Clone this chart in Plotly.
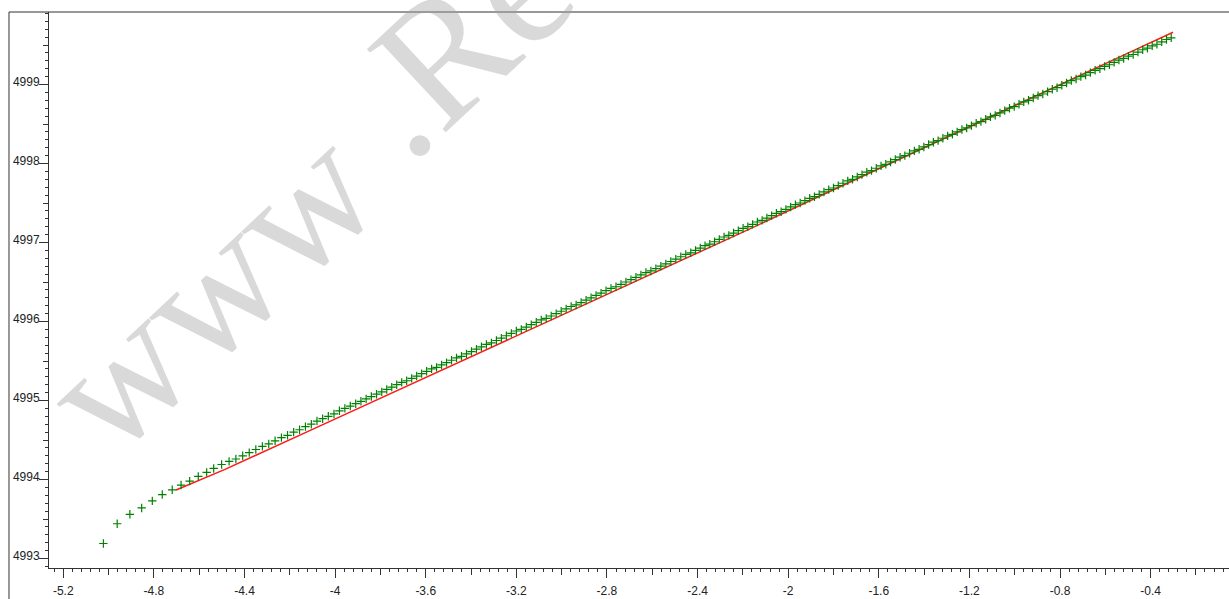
import plotly.graph_objects as go

# ---- data ----
x_green = [-5.023, -4.962, -4.906, -4.854, -4.807, -4.763, -4.719, -4.680, -4.642, -4.604,
           -4.567, -4.536, -4.501, -4.468,
           -4.438, -4.408, -4.379, -4.350, -4.321, -4.293, -4.265, -4.237, -4.210, -4.183,
           -4.157, -4.131, -4.105, -4.080, -4.055, -4.030, -4.005, -3.981, -3.957, -3.933,
           -3.909, -3.886, -3.863, -3.840, -3.817, -3.794, -3.772, -3.750, -3.728,
           -3.706, -3.684, -3.662, -3.640, -3.618, -3.596, -3.574, -3.552, -3.530, -3.508,
           -3.486, -3.464, -3.442, -3.420, -3.398, -3.376, -3.354, -3.332, -3.310, -3.288,
           -3.266, -3.244, -3.222, -3.200, -3.178, -3.156, -3.134, -3.112, -3.090, -3.068,
           -3.046, -3.024, -3.002, -2.980,
           -2.958, -2.936, -2.914, -2.892, -2.870, -2.848, -2.826, -2.804, -2.782, -2.760,
           -2.738, -2.716, -2.694, -2.672, -2.650, -2.628, -2.606, -2.584, -2.562, -2.540,
           -2.518, -2.496, -2.474, -2.452, -2.430, -2.409, -2.388, -2.367, -2.346, -2.325,
           -2.304, -2.283, -2.262, -2.241, -2.220,
           -2.199, -2.178, -2.157, -2.136, -2.115, -2.094, -2.073, -2.052, -2.031, -2.010,
           -1.989, -1.968, -1.947, -1.926, -1.905, -1.884, -1.863, -1.842, -1.821, -1.800,
           -1.779, -1.758, -1.737, -1.716, -1.695, -1.674, -1.653, -1.632, -1.611, -1.590,
           -1.569, -1.548, -1.527, -1.506, -1.485,
           -1.464, -1.443, -1.422, -1.401, -1.380, -1.359, -1.338, -1.317, -1.296, -1.275,
           -1.254, -1.233, -1.212, -1.191, -1.170, -1.149, -1.128, -1.107, -1.086, -1.065,
           -1.044, -1.023, -1.002, -0.981, -0.960, -0.939, -0.918, -0.897, -0.876, -0.855,
           -0.834, -0.813, -0.792, -0.771, -0.750, -0.729,
           -0.708, -0.687, -0.666, -0.645, -0.624, -0.603, -0.582, -0.561, -0.540, -0.519,
           -0.498, -0.477, -0.456, -0.435, -0.414, -0.393, -0.372, -0.351, -0.330, -0.309]

y_green = [4993.19, 4993.44, 4993.56, 4993.64, 4993.73, 4993.81, 4993.87, 4993.93, 4993.98, 4994.04,
           4994.09, 4994.14, 4994.19, 4994.23,
           4994.26, 4994.30, 4994.34, 4994.38, 4994.42, 4994.45, 4994.49, 4994.53, 4994.56, 4994.60,
           4994.63, 4994.67, 4994.70, 4994.74, 4994.77, 4994.80, 4994.83, 4994.87, 4994.90, 4994.93,
           4994.96, 4994.99, 4995.02, 4995.05, 4995.08, 4995.11, 4995.14, 4995.17, 4995.20,
           4995.23, 4995.25, 4995.28, 4995.31, 4995.34, 4995.37, 4995.40, 4995.42, 4995.45, 4995.48,
           4995.51, 4995.54, 4995.56, 4995.59, 4995.62, 4995.65, 4995.68, 4995.71, 4995.73, 4995.76,
           4995.79, 4995.82, 4995.85, 4995.88, 4995.90, 4995.93, 4995.96, 4995.99, 4996.02, 4996.04,
           4996.07, 4996.10, 4996.13, 4996.16,
           4996.19, 4996.21, 4996.24, 4996.27, 4996.30, 4996.33, 4996.36, 4996.39, 4996.42, 4996.44,
           4996.47, 4996.50, 4996.53, 4996.56, 4996.59, 4996.62, 4996.64, 4996.67, 4996.70, 4996.73,
           4996.76, 4996.79, 4996.82, 4996.85, 4996.87, 4996.90, 4996.93, 4996.96, 4996.98, 4997.01,
           4997.04, 4997.07, 4997.09, 4997.12, 4997.15,
           4997.18, 4997.20, 4997.23, 4997.26, 4997.28, 4997.31, 4997.34, 4997.37, 4997.39, 4997.42,
           4997.45, 4997.48, 4997.50, 4997.53, 4997.56, 4997.58, 4997.61, 4997.64, 4997.67, 4997.69,
           4997.72, 4997.75, 4997.78, 4997.80, 4997.83, 4997.86, 4997.89, 4997.91, 4997.94, 4997.97,
           4997.99, 4998.02, 4998.05, 4998.08, 4998.10,
           4998.13, 4998.16, 4998.18, 4998.21, 4998.24, 4998.27, 4998.29, 4998.32, 4998.35, 4998.37,
           4998.40, 4998.43, 4998.45, 4998.48, 4998.51, 4998.53, 4998.56, 4998.59, 4998.61, 4998.64,
           4998.67, 4998.70, 4998.72, 4998.75, 4998.78, 4998.80, 4998.83, 4998.86, 4998.88, 4998.91,
           4998.94, 4998.96, 4998.99, 4999.02, 4999.05, 4999.07,
           4999.10, 4999.12, 4999.15, 4999.18, 4999.20, 4999.23, 4999.25, 4999.28, 4999.31, 4999.33,
           4999.36, 4999.38, 4999.41, 4999.44, 4999.46, 4999.49, 4999.51, 4999.54, 4999.57, 4999.59]

x_red = [-4.702, -4.486, -4.100, -3.714, -3.340, -2.963, -2.590, -2.212, -1.840, -1.462,
         -1.090, -0.711, -0.500, -0.301]
y_red = [4993.867, 4994.129, 4994.635, 4995.142, 4995.631, 4996.124, 4996.617, 4997.116,
         4997.614, 4998.120, 4998.615, 4999.120, 4999.398, 4999.661]

x_tick_vals = [-5.2, -4.8, -4.4, -4.0, -3.6, -3.2, -2.8, -2.4, -2.0, -1.6, -1.2, -0.8, -0.4]
x_tick_text = ["-5.2", "-4.8", "-4.4", "-4", "-3.6", "-3.2", "-2.8", "-2.4", "-2", "-1.6",
               "-1.2", "-0.8", "-0.4"]
x_mid_ticks = [-5.0, -4.6, -4.2, -3.8, -3.4, -3.0, -2.6, -2.2, -1.8, -1.4, -1.0, -0.6, -0.2]
y_tick_vals = [4993, 4994, 4995, 4996, 4997, 4998, 4999]
y_tick_text = ["4993", "4994", "4995", "4996", "4997", "4998", "4999"]
y_mid_ticks = [4993.5, 4994.5, 4995.5, 4996.5, 4997.5, 4998.5, 4999.5]

watermark_parts = ["www", ".Re"]

X_RANGE = [-5.263, -0.054]
Y_RANGE = [4992.88, 4999.918]

AX = "#333333"
FONT = dict(family="Liberation Sans, Arial, sans-serif", size=12, color="#222222")
WM_FONT = dict(family="Liberation Serif, Times New Roman, serif", size=175,
               color="rgba(160,160,160,0.4)")

fig = go.Figure()

fig.add_trace(go.Scatter(
    x=x_red, y=y_red, mode="lines",
    line=dict(color="#ff1a1a", width=1.5),
    hoverinfo="skip", showlegend=False,
))
fig.add_trace(go.Scatter(
    x=x_green, y=y_green, mode="markers",
    marker=dict(symbol="cross-thin", size=6, line=dict(color="#008000", width=1.2),
                color="#008000"),
    showlegend=False,
))
# carrier trace for the overlay axes (mid ticks)
fig.add_trace(go.Scatter(
    x=x_red[:1], y=y_red[:1], xaxis="x2", yaxis="y2", mode="markers",
    marker=dict(size=1, opacity=0), hoverinfo="skip", showlegend=False,
))

fig.update_layout(
    width=1229, height=599,
    margin=dict(l=49, r=0, t=12, b=31, autoexpand=False),
    paper_bgcolor="white", plot_bgcolor="white",
    font=FONT,
    xaxis=dict(
        range=X_RANGE, tickvals=x_tick_vals, ticktext=x_tick_text, automargin=False,
        ticks="outside", ticklen=9, tickwidth=1, tickcolor=AX,
        minor=dict(dtick=0.04, tick0=-5.2, ticks="outside", ticklen=3, tickwidth=1, tickcolor=AX),
        showgrid=False, zeroline=False, showline=True, linecolor=AX, linewidth=1,
        tickfont=FONT, ticklabelstandoff=3,
    ),
    xaxis2=dict(
        range=X_RANGE, overlaying="x", anchor="y2", side="bottom", automargin=False,
        tickvals=x_mid_ticks, ticks="outside", ticklen=6, tickwidth=1, tickcolor=AX,
        showticklabels=False, showgrid=False, zeroline=False, showline=False,
    ),
    yaxis=dict(
        range=Y_RANGE, tickvals=y_tick_vals, ticktext=y_tick_text, automargin=False,
        ticks="outside", ticklen=9, tickwidth=1, tickcolor=AX,
        minor=dict(dtick=0.1, tick0=4993, ticks="outside", ticklen=3, tickwidth=1, tickcolor=AX),
        showgrid=False, zeroline=False, showline=True, linecolor=AX, linewidth=1,
        tickfont=FONT, ticklabelshift=-3, ticklabelstandoff=-3,
    ),
    yaxis2=dict(
        range=Y_RANGE, overlaying="y", anchor="x2", side="left", automargin=False,
        tickvals=y_mid_ticks, ticks="outside", ticklen=5, tickwidth=1, tickcolor=AX,
        showticklabels=False, showgrid=False, zeroline=False, showline=False,
    ),
    shapes=[
        dict(type="line", xref="paper", yref="paper", x0=-0.0339, x1=1.0, y0=1.0, y1=1.0,
             line=dict(color=AX, width=1)),
        dict(type="line", xref="paper", yref="paper", x0=-0.0339, x1=-0.0339, y0=1.0, y1=-0.06,
             line=dict(color=AX, width=1)),
    ],
    annotations=[
        dict(text=watermark_parts[0], xref="paper", yref="paper", x=0.1364, y=0.50,
             xanchor="center", yanchor="middle", showarrow=False, textangle=-43, font=WM_FONT),
        dict(text=watermark_parts[1], xref="paper", yref="paper", x=0.3449, y=0.946,
             xanchor="center", yanchor="middle", showarrow=False, textangle=-43, font=WM_FONT),
    ],
)

fig.write_html(
    "out.html",
    config={"displayModeBar": False},
    post_script="document.body.style.margin='0';document.body.style.overflow='hidden';",
)
